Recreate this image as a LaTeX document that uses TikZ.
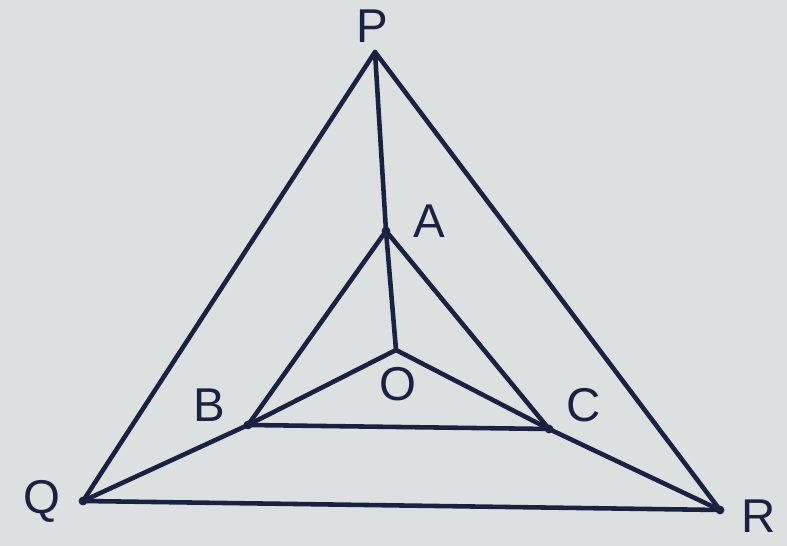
\documentclass[tikz,border=0pt]{standalone}
\usepackage{fontspec}
\setmainfont{Liberation Sans}
\usepackage{xcolor}
\usetikzlibrary{calc}
\definecolor{PaperGrey}{HTML}{DDE0E0}
\definecolor{InkBlue}{HTML}{1B2140}
\tikzset{
    % Edge style
    edge/.style={
        draw=InkBlue,
        line width=2.6pt,
        line cap=round,
        line join=round
    },
    % Vertex label style
    vlabel/.style={
        text=InkBlue,
        font=\fontsize{27}{27}\selectfont,
        inner sep=0pt
    },
    % Vertex dot
    vdot/.style={
        fill=InkBlue,
        circle,
        inner sep=0pt,
        minimum size=5pt
    }
}
\begin{document}
\begin{tikzpicture}
        % Background and bounding box
        \fill[PaperGrey] (0,0) rectangle (15.74,10.92);
        \useasboundingbox (0,0) rectangle (15.74,10.92);

        % Points
        \coordinate (P) at (7.50,9.88);
        \coordinate (A) at (7.72,6.30);
        \coordinate (O) at (7.92,3.92);
        \coordinate (B) at (4.96,2.42);
        \coordinate (C) at (10.98,2.34);
        \coordinate (Q) at (1.66,0.90);
        \coordinate (R) at (14.40,0.72);

        % Outer triangle
        \draw[edge] (P) -- (Q) -- (R) -- cycle;

        % Inner triangle
        \draw[edge] (A) -- (B) -- (C) -- cycle;

        % Joins
        \draw[edge] (P) -- (A);
        \draw[edge] (Q) -- (B);
        \draw[edge] (R) -- (C);
        \draw[edge] (A) -- (O);
        \draw[edge] (B) -- (O);
        \draw[edge] (C) -- (O);

        % Dots
        \foreach \pt in {A,B,C,Q,R}
            \node[vdot] (dot\pt) at (\pt) {};

        % Labels
        \node[vlabel] (labP) at (7.44,10.40) {P};
        \node[vlabel] (labA) at (8.58,6.50) {A};
        \node[vlabel] (labO) at (7.96,3.24) {O};
        \node[vlabel] (labB) at (4.18,2.82) {B};
        \node[vlabel] (labC) at (11.68,2.82) {C};
        \node[vlabel] (labQ) at (0.84,0.90) {Q};
        \node[vlabel] (labR) at (15.18,0.60) {R};
    \end{tikzpicture}
\end{document}
